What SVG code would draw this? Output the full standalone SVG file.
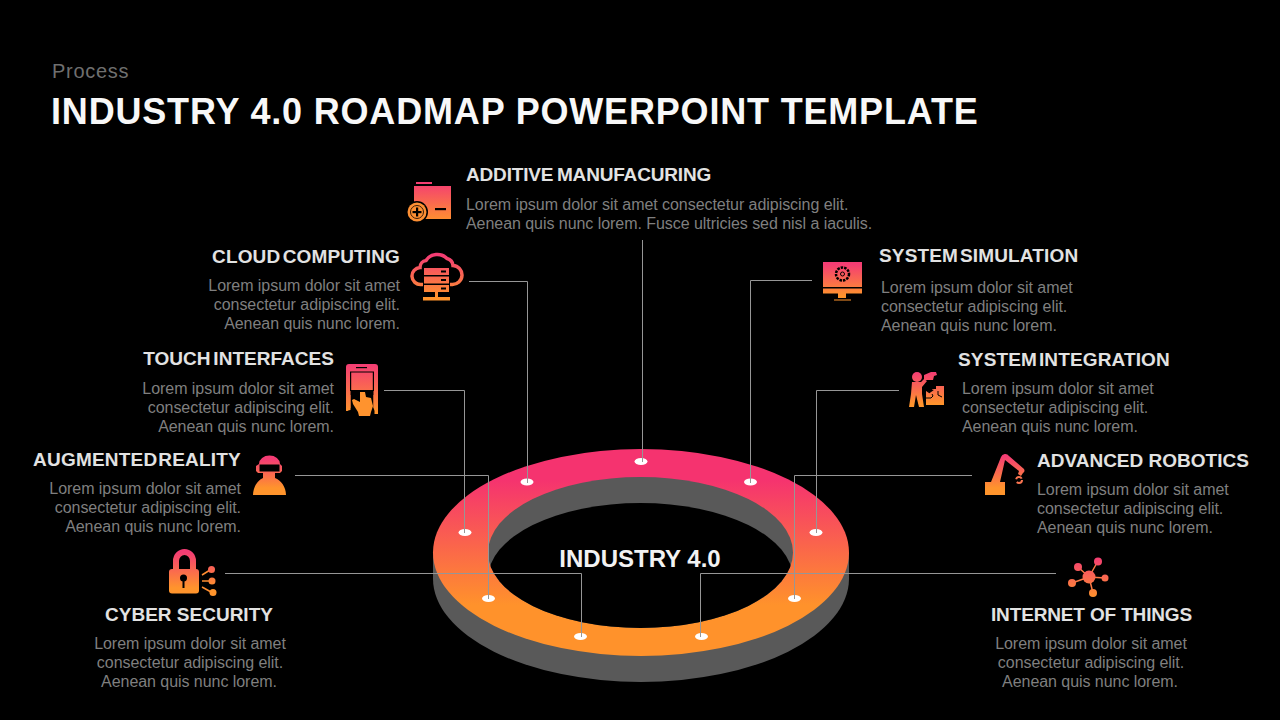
<svg xmlns="http://www.w3.org/2000/svg" xmlns:xlink="http://www.w3.org/1999/xlink" width="1280" height="720" viewBox="0 0 1280 720">
<style>
text{font-family:"Liberation Sans",Arial,sans-serif}
.h{font-weight:bold;font-size:19px;fill:#e2e2e2}
.b{font-size:16px;fill:#7f7f7f;letter-spacing:-.05px}
.e{text-anchor:end}
.m{text-anchor:middle}
.c{fill:none;stroke:#969696;stroke-width:1}
.k{fill:#000}
.d{fill:#fff}
</style>
<defs>
<linearGradient id="ring" gradientUnits="userSpaceOnUse" x1="0" y1="480" x2="0" y2="605"><stop offset="0" stop-color="#f5336f"/><stop offset="1" stop-color="#ff922b"/></linearGradient>
<linearGradient id="g" x1="0" y1="0" x2="0" y2="1"><stop offset="0" stop-color="#f43c74"/><stop offset="1" stop-color="#ff942c"/></linearGradient>
<linearGradient id="g1" gradientUnits="userSpaceOnUse" xlink:href="#g" x1="0" y1="182" x2="0" y2="222"/>
<linearGradient id="g2" gradientUnits="userSpaceOnUse" xlink:href="#g" x1="0" y1="255" x2="0" y2="298"/>
<linearGradient id="g3" gradientUnits="userSpaceOnUse" xlink:href="#g" x1="0" y1="364" x2="0" y2="412"/>
<linearGradient id="g4" gradientUnits="userSpaceOnUse" xlink:href="#g" x1="0" y1="459" x2="0" y2="488"/>
<linearGradient id="g5" gradientUnits="userSpaceOnUse" xlink:href="#g" x1="0" y1="552" x2="0" y2="588"/>
<linearGradient id="g6" gradientUnits="userSpaceOnUse" xlink:href="#g" x1="0" y1="264" x2="0" y2="296"/>
<linearGradient id="g7" gradientUnits="userSpaceOnUse" xlink:href="#g" x1="0" y1="372" x2="0" y2="404"/>
<linearGradient id="g8" gradientUnits="userSpaceOnUse" xlink:href="#g" x1="0" y1="456" x2="0" y2="488"/>
<linearGradient id="g9" gradientUnits="userSpaceOnUse" xlink:href="#g" x1="0" y1="557" x2="0" y2="598"/>
<clipPath id="hole"><ellipse cx="640.5" cy="552.5" rx="152.5" ry="75.5"/></clipPath>
</defs>
<rect width="1280" height="720" fill="#000"/>
<text x="52" y="77.500" font-size="20" letter-spacing=".7" fill="#6f6f6f">Process</text>
<text x="51" y="124" font-size="36" font-weight="bold" letter-spacing=".82" fill="#f8f8f8">INDUSTRY 4.0 ROADMAP POWERPOINT TEMPLATE</text>

<g id="ring3d">
<path fill="#595959" d="M433 552.500V578.500A208 103.500 0 0 0 849 578.500V552.500Z"/>
<ellipse cx="641" cy="552.500" rx="208" ry="103.500" fill="url(#ring)"/>
<ellipse cx="640.500" cy="552.500" rx="152.500" ry="75.500" fill="#595959"/>
<ellipse cx="640.500" cy="578.500" rx="152.500" ry="75.500" fill="#000" clip-path="url(#hole)"/>
<text x="640" y="567" class="m" font-size="24" font-weight="bold" fill="#f2f2f2">INDUSTRY 4.0</text>
</g>

<g id="dots">
<ellipse class="d" cx="641" cy="461.500" rx="6.500" ry="3.500"/>
<ellipse class="d" cx="527" cy="482" rx="6.500" ry="3.500"/>
<ellipse class="d" cx="465" cy="532.500" rx="6.500" ry="3.500"/>
<ellipse class="d" cx="488.500" cy="598.500" rx="6.500" ry="3.500"/>
<ellipse class="d" cx="580.500" cy="636.500" rx="6.500" ry="3.500"/>
<ellipse class="d" cx="701.500" cy="636.500" rx="6.500" ry="3.500"/>
<ellipse class="d" cx="794.500" cy="598.500" rx="6.500" ry="3.500"/>
<ellipse class="d" cx="816" cy="532.500" rx="6.500" ry="3.500"/>
<ellipse class="d" cx="750.500" cy="482" rx="6.500" ry="3.500"/>
</g>

<g id="connectors">
<path class="c" d="M642.500 240V462"/>
<path class="c" d="M469 281.500H527.500V483"/>
<path class="c" d="M384 390.500H464.500V533"/>
<path class="c" d="M295 475.500H488.500V599"/>
<path class="c" d="M225 573.500H581.500V637"/>
<path class="c" d="M812 280.500H750.500V483"/>
<path class="c" d="M899 390.500H816.500V533"/>
<path class="c" d="M972 475.500H794.500V599"/>
<path class="c" d="M1056 573.500H700.500V637"/>
</g>

<g id="additive">
<path fill="url(#g1)" d="M416 182h16v2h-16zM414 186h37v33h-37z"/>
<circle class="k" cx="417" cy="212" r="11"/>
<circle cx="417" cy="212" r="9.500" fill="#fd8f33"/>
<circle cx="417" cy="212" r="6.500" fill="none" stroke="#3a1c08" stroke-width="1"/>
<rect class="k" x="412.500" y="211" width="9" height="2.200"/><rect class="k" x="416" y="207.500" width="2.200" height="9"/>
<rect class="k" x="435" y="208" width="11" height="2.200"/>
<text class="h" x="466" y="181" word-spacing="-1.500" letter-spacing="-.17">ADDITIVE MANUFACURING</text>
<text class="b" x="466" y="210">Lorem ipsum dolor sit amet consectetur  adipiscing elit.</text>
<text class="b" x="466" y="229">Aenean quis nunc lorem. Fusce ultricies sed nisl a iaculis.</text>
</g>

<g id="cloud">
<path fill="none" stroke="url(#g2)" stroke-width="3.500" d="M423 284.500h-2a8.500 8.500 0 0 1-1-17 7 7 0 0 1 6-7 13 12 0 0 1 21-2 8 8 0 0 1 6 7 9 9 0 0 1 -1 19h-2"/>
<g fill="url(#g2)"><rect x="424" y="268" width="25" height="7"/><rect x="424" y="276.500" width="25" height="7"/><rect x="424" y="285" width="25" height="7"/><rect x="435" y="292" width="3" height="5"/><rect x="423" y="297" width="27" height="3.500"/></g>
<g class="k"><rect x="441" y="270.500" width="5" height="2"/><rect x="441" y="279" width="5" height="2"/><rect x="441" y="287.500" width="5" height="2"/></g>
<text class="h e" x="400" y="263" word-spacing="-3" letter-spacing=".13">CLOUD COMPUTING</text>
<text class="b e" x="400" y="291">Lorem ipsum dolor sit amet</text>
<text class="b e" x="400" y="310">consectetur  adipiscing elit.</text>
<text class="b e" x="400" y="329">Aenean quis nunc lorem.</text>
</g>

<g id="touch">
<path fill="url(#g3)" d="M349 364h26a3 3 0 0 1 3 3v47h-32v-47a3 3 0 0 1 3-3z"/>
<rect class="k" x="356" y="367" width="11" height="1.200"/>
<path fill="none" stroke="#000" stroke-width="1.200" d="M350.600 391V372h22.800v19"/>
<path class="k" d="M350.500 390h23v17l1 4v4h-29v-4l5-1z"/>
<path fill="url(#g3)" d="M346 395h4.500v13l-3 3h-1.500zM378 395h-4.500v13l2 3h2.500z"/>
<path fill="#ff932e" d="M360 392h5l1 5 5 1 2 8-2 6-1 4h-11l-1-4-5-8-1-4 2-1 6 3z"/>
<text class="h e" x="334" y="365" word-spacing="-2.500" letter-spacing=".03">TOUCH INTERFACES</text>
<text class="b e" x="334" y="394">Lorem ipsum dolor sit amet</text>
<text class="b e" x="334" y="413">consectetur  adipiscing elit.</text>
<text class="b e" x="334" y="432">Aenean quis nunc lorem.</text>
</g>

<g id="reality">
<path fill="url(#g4)" d="M259 464a10 8 0 0 1 21 0l2 2v5l-2 2h-5v5c6 2 11 9 11 17h-33c0-8 5-15 10-17v-5h-5l-2-2v-5z"/>
<rect class="k" x="259.500" y="464.500" width="20" height="7"/>
<text class="h e" x="241" y="466" word-spacing="-4.500" letter-spacing=".2">AUGMENTED REALITY</text>
<text class="b e" x="241" y="494">Lorem ipsum dolor sit amet</text>
<text class="b e" x="241" y="513">consectetur  adipiscing elit.</text>
<text class="b e" x="241" y="532">Aenean quis nunc lorem.</text>
</g>

<g id="cyber">
<path fill="none" stroke="url(#g5)" stroke-width="6" d="M176 570V561a8.500 9 0 0 1 17 0V570"/>
<rect x="169" y="569" width="30" height="24.500" rx="3" fill="url(#g5)"/>
<circle class="k" cx="183.500" cy="578" r="3.500"/><rect class="k" x="182.500" y="579" width="2" height="9"/>
<path fill="none" stroke="#fe8d30" stroke-width="1.500" d="M202 575l8-5M202 581h8M202 587l9 5"/>
<g fill="url(#g5)"><circle cx="211.500" cy="569.500" r="3.500"/><circle cx="212" cy="581" r="3.500"/><circle cx="213" cy="592.500" r="3.500"/></g>
<text class="h m" x="189" y="621">CYBER SECURITY</text>
<text class="b m" x="190" y="649">Lorem ipsum dolor sit amet</text>
<text class="b m" x="190" y="668">consectetur  adipiscing elit.</text>
<text class="b m" x="189" y="687">Aenean quis nunc lorem.</text>
</g>

<g id="simulation">
<path fill="url(#g6)" d="M823 262h39v25h-39zM823 288.500h39v5h-39zM838 293.500h8v4.500h-8zM834 299.500h17v1h-17z"/>
<circle cx="842.500" cy="274" r="6.500" fill="none" stroke="#000" stroke-width="2.500" stroke-dasharray="2.500 1"/>
<circle cx="842.500" cy="274" r="2" fill="none" stroke="#000"/>
<text class="h" x="879" y="262" word-spacing="-3.500" letter-spacing=".15">SYSTEM SIMULATION</text>
<text class="b" x="881" y="293">Lorem ipsum dolor sit amet</text>
<text class="b" x="881" y="312">consectetur  adipiscing elit.</text>
<text class="b" x="881" y="331">Aenean quis nunc lorem.</text>
</g>

<g id="integration">
<circle cx="917" cy="377" r="5" fill="url(#g7)"/>
<path fill="url(#g7)" d="M912 382h9l3-3 3 2-5 6v7l2 13h-5l-3-12-2 12h-5l2-13zM924 375l7-3h5l1 3-3 1-1 4h-9z"/>
<path fill="url(#g7)" d="M926 391h6v-2h4v-3h8v19h-18z"/>
<path class="k" d="M928.500 382h1.500v2h2v1.200h-2v6l3-2 .6 1-4.300 3-4.300-3 .6-1 3 2v-6h-2v-1.200h2z"/>
<path fill="none" stroke="#000" d="M926 398h5l2-2-1-2M938 391v4l4 2"/>
<text class="h" x="958" y="366" word-spacing="-3.500" letter-spacing=".14">SYSTEM INTEGRATION</text>
<text class="b" x="962" y="394">Lorem ipsum dolor sit amet</text>
<text class="b" x="962" y="413">consectetur  adipiscing elit.</text>
<text class="b" x="962" y="432">Aenean quis nunc lorem.</text>
</g>

<g id="robotics">
<path fill="url(#g8)" d="M985 482h6l10-25a4.500 4.500 0 0 1 8-1l15 13a3 3 0 0 1-1 4l-2 3-3-2 1-3-14-11-5 22h5v13h-20z"/>
<circle cx="1019" cy="480" r="3" fill="none" stroke="#fa7450" stroke-width="2" stroke-dasharray="7 3"/>
<text class="h" x="1037" y="467">ADVANCED ROBOTICS</text>
<text class="b" x="1037" y="495">Lorem ipsum dolor sit amet</text>
<text class="b" x="1037" y="514">consectetur  adipiscing elit.</text>
<text class="b" x="1037" y="533">Aenean quis nunc lorem.</text>
</g>

<g id="iot">
<path fill="none" stroke="#fb7a45" stroke-width="1.500" d="M1089 577l-11-10M1089 577l9-16M1089 577l-17 6M1089 577l16 1M1089 577l4 16"/>
<g fill="url(#g9)"><circle cx="1089" cy="577" r="6.500"/><circle cx="1098" cy="561.500" r="4"/><circle cx="1078" cy="567" r="4"/><circle cx="1072" cy="583" r="4"/><circle cx="1105" cy="578" r="3.500"/><circle cx="1093" cy="593" r="4"/></g>
<text class="h m" x="1091.500" y="621" letter-spacing="-.15">INTERNET OF THINGS</text>
<text class="b m" x="1091" y="649">Lorem ipsum dolor sit amet</text>
<text class="b m" x="1091" y="668">consectetur  adipiscing elit.</text>
<text class="b m" x="1090" y="687">Aenean quis nunc lorem.</text>
</g>
</svg>
